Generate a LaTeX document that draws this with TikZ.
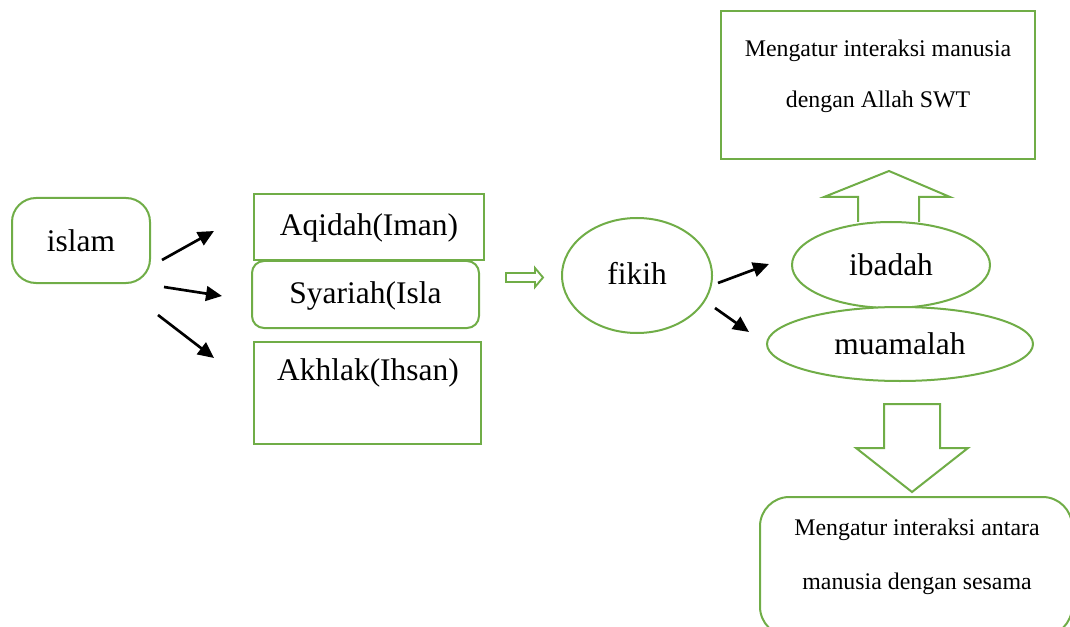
\documentclass[tikz,border=0pt]{standalone}
\usepackage{fontspec}
\setmainfont{Liberation Serif}
\usetikzlibrary{shapes.geometric,arrows.meta}
\definecolor{ogreen}{RGB}{112,173,71}
\tikzset{
  gbox/.style={draw=ogreen, line width=1.5pt, fill=white, inner sep=0pt},
  gell/.style={gbox, ellipse},
  big/.style={font=\fontsize{23.6}{28}\selectfont},
  small/.style={font=\fontsize{17.9}{22}\selectfont},
  blk/.style={draw=ogreen, line width=1.5pt, fill=white, line join=miter},
  arr/.style={line width=2pt, -{Triangle[length=12pt,width=11pt]}}
}
\begin{document}
\begin{tikzpicture}[x=0.75pt,y=-0.75pt]
\useasboundingbox (0,0) rectangle (1070,627);
% left
\node[gbox, rounded corners=18pt, minimum width=103.5pt, minimum height=63.75pt, big] (islam) at (81,240.5) {islam};
\node[gbox, minimum width=172.5pt, minimum height=49.5pt] (aqidah) at (369,227) {};
\node[big] (aqidaht) at (369,228) {Aqidah(Iman)};
\node[gbox, rounded corners=9pt, minimum width=170.25pt, minimum height=50.25pt] (syariah) at (365.5,294.5) {};
\node[big] (syariaht) at (365.5,295.5) {Syariah(Isla};
\node[gbox, minimum width=170.25pt, minimum height=76.5pt] (akhlak) at (367.5,393) {};
\node[big] (akhlakt) at (368,373) {Akhlak(Ihsan)};
\coordinate (a1s) at (162,260); \coordinate (a1e) at (214,231);
\coordinate (a2s) at (164,287); \coordinate (a2e) at (222,296);
\coordinate (a3s) at (158,315); \coordinate (a3e) at (214,358);
\draw[arr] (a1s) -- (a1e);
\draw[arr] (a2s) -- (a2e);
\draw[arr] (a3s) -- (a3e);
% small right block arrow
\draw[blk, line width=1.4pt] (506,273) -- (535,273) -- (535,268) -- (543,277.5) -- (535,287) -- (535,282) -- (506,282) -- cycle;
% fikih
\node[gell, minimum width=112.5pt, minimum height=86.25pt] (fikih) at (637,275.5) {};
\node[big] (fikiht) at (637,273) {fikih};
\coordinate (f1s) at (718,283); \coordinate (f1e) at (769,264);
\coordinate (f2s) at (715,308); \coordinate (f2e) at (749,332);
\draw[arr] (f1s) -- (f1e);
\draw[arr] (f2s) -- (f2e);
% right
\node[gbox, minimum width=235.5pt, minimum height=111pt] (top) at (878,85) {};
\node[small] (topt1) at (878,51) {Mengatur interaksi manusia};
\node[small] (topt2) at (878,102) {dengan Allah SWT};
\draw[blk] (858,222) -- (858,197) -- (824,197) -- (889,171) -- (950,197) -- (919,197) -- (919,222);
\node[gell, minimum width=148.5pt, minimum height=64.5pt, big] (ibadah) at (891,265) {ibadah};
\node[gell, minimum width=199.5pt, minimum height=55.5pt, big] (muamalah) at (900,344) {muamalah};
\draw[blk] (884,404) -- (940,404) -- (940,448) -- (968,448) -- (912,492) -- (856,448) -- (884,448) -- cycle;
\draw[draw=ogreen, line width=1.5pt, rounded corners=22pt] (760,497) rectangle (1072,636);
\node[small] (bott1) at (917,530) {Mengatur interaksi antara};
\node[small] (bott2) at (917,584) {manusia dengan sesama};
\end{tikzpicture}
\end{document}
